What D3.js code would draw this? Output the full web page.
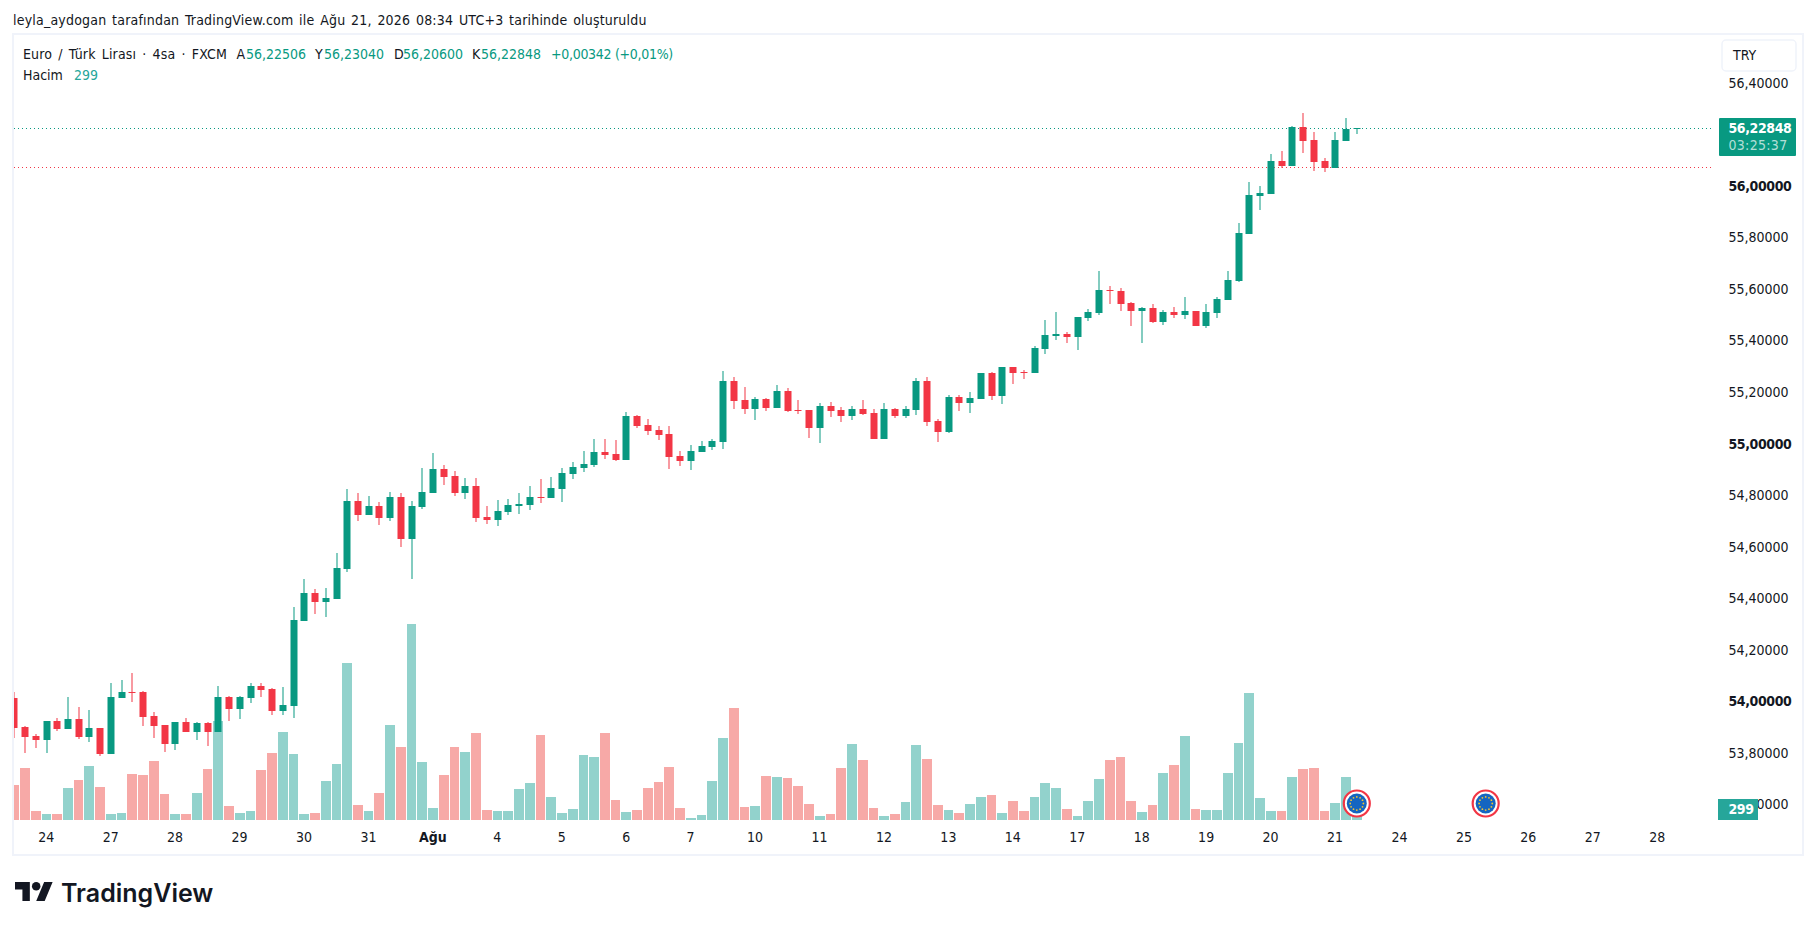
<!DOCTYPE html>
<html>
<head>
<meta charset="utf-8">
<script src="https://cdn.jsdelivr.net/npm/d3@7"></script>
<style>
  html, body { margin: 0; background: #fff; }
  svg { display: block; }
  text { font-family: "DejaVu Sans Condensed", "DejaVu Sans", sans-serif; font-size: 14px; fill: #131722; }
</style>
</head>
<body>
<svg id="chart" width="1815" height="930"></svg>
<script>
// EUR/TRY 4h candles
const opens = [
  54.018,53.905,53.870,53.855,53.928,53.897,53.936,53.866,53.901,53.800,
  54.018,54.041,54.041,53.948,53.913,53.839,53.924,53.885,53.920,53.885,
  54.022,53.975,54.018,54.064,54.053,53.967,53.987,54.316,54.425,54.390,
  54.402,54.518,54.782,54.728,54.763,54.716,54.798,54.634,54.759,54.813,
  54.906,54.879,54.813,54.840,54.720,54.708,54.739,54.763,54.767,54.798,
  54.794,54.829,54.887,54.910,54.921,54.972,54.964,54.941,55.111,55.076,
  55.057,55.041,54.957,54.937,54.972,54.991,55.010,55.247,55.174,55.139,
  55.178,55.143,55.208,55.135,55.135,55.065,55.150,55.135,55.111,55.139,
  55.123,55.022,55.139,55.111,55.135,55.247,55.092,55.049,55.185,55.162,
  55.178,55.278,55.189,55.302,55.282,55.278,55.372,55.422,55.430,55.418,
  55.492,55.511,55.600,55.596,55.550,55.519,55.530,55.476,55.515,55.503,
  55.519,55.461,55.511,55.562,55.635,55.817,55.965,55.972,56.101,56.082,
  56.233,56.182,56.101,56.074,56.178,56.22506
];
const highs = [
  54.041,53.909,53.878,53.928,53.940,54.022,53.983,53.971,53.901,54.075,
  54.087,54.115,54.045,53.963,53.913,53.924,53.940,53.924,53.924,54.064,
  54.026,54.026,54.075,54.075,54.057,54.061,54.371,54.479,54.440,54.444,
  54.580,54.829,54.813,54.802,54.778,54.817,54.813,54.782,54.910,54.968,
  54.921,54.898,54.871,54.871,54.763,54.786,54.790,54.813,54.840,54.867,
  54.875,54.910,54.933,54.976,55.022,55.022,55.018,55.127,55.115,55.100,
  55.072,55.072,54.976,54.999,55.014,55.022,55.286,55.263,55.224,55.185,
  55.182,55.232,55.220,55.174,55.135,55.162,55.166,55.147,55.150,55.174,
  55.139,55.162,55.143,55.150,55.259,55.263,55.100,55.193,55.193,55.205,
  55.278,55.282,55.302,55.302,55.290,55.383,55.484,55.515,55.437,55.495,
  55.527,55.674,55.616,55.608,55.554,55.534,55.546,55.523,55.534,55.573,
  55.519,55.546,55.573,55.674,55.860,56.019,56.004,56.127,56.139,56.237,
  56.287,56.213,56.113,56.213,56.268,56.2304
];
const lows = [
  53.863,53.804,53.824,53.804,53.889,53.897,53.858,53.847,53.792,53.800,
  54.018,54.002,53.909,53.863,53.808,53.816,53.885,53.855,53.831,53.885,
  53.928,53.936,53.998,54.022,53.952,53.952,53.940,54.316,54.343,54.332,
  54.402,54.506,54.704,54.728,54.689,54.704,54.603,54.479,54.751,54.813,
  54.844,54.802,54.790,54.700,54.692,54.685,54.728,54.732,54.747,54.774,
  54.794,54.778,54.867,54.894,54.914,54.945,54.937,54.941,55.065,55.037,
  55.018,54.906,54.918,54.902,54.972,54.980,54.983,55.139,55.119,55.096,
  55.131,55.143,55.127,55.119,55.026,55.006,55.108,55.088,55.096,55.115,
  55.022,55.022,55.104,55.104,55.115,55.072,55.010,55.045,55.131,55.123,
  55.178,55.174,55.158,55.236,55.255,55.278,55.352,55.406,55.395,55.368,
  55.480,55.503,55.546,55.519,55.461,55.395,55.472,55.465,55.492,55.488,
  55.461,55.453,55.492,55.562,55.631,55.817,55.911,55.972,56.074,56.082,
  56.131,56.062,56.058,56.074,56.178,56.206
];
const closes = [
  53.901,53.866,53.855,53.928,53.897,53.936,53.866,53.901,53.800,54.022,
  54.041,54.037,53.944,53.909,53.839,53.924,53.885,53.920,53.885,54.022,
  53.975,54.022,54.064,54.049,53.967,53.991,54.320,54.425,54.390,54.406,
  54.522,54.782,54.728,54.763,54.716,54.798,54.634,54.763,54.817,54.906,
  54.875,54.813,54.840,54.716,54.708,54.743,54.767,54.770,54.798,54.794,
  54.833,54.890,54.914,54.925,54.972,54.960,54.941,55.111,55.072,55.053,
  55.037,54.952,54.937,54.976,54.995,55.014,55.247,55.170,55.139,55.178,
  55.143,55.208,55.131,55.131,55.065,55.150,55.131,55.111,55.139,55.119,
  55.022,55.139,55.111,55.139,55.247,55.088,55.049,55.185,55.162,55.182,
  55.278,55.189,55.302,55.278,55.278,55.375,55.426,55.430,55.418,55.495,
  55.515,55.600,55.596,55.546,55.519,55.530,55.476,55.515,55.503,55.519,
  55.461,55.515,55.565,55.639,55.821,55.969,55.976,56.101,56.082,56.233,
  56.178,56.097,56.074,56.182,56.225,56.22848
];
const volumes = [
  2100,3120,540,360,360,1920,2400,3240,1980,360,
  420,2760,2700,3540,1560,360,360,1620,3060,5940,
  840,420,540,3000,4020,5280,3960,360,420,2340,
  3360,9420,900,540,1620,5700,4380,11760,3480,720,
  2700,4380,4080,5220,600,540,540,1860,2220,5100,
  1380,420,660,3900,3780,5220,1200,480,600,1920,
  2280,3180,720,120,300,2340,4920,6720,780,840,
  2640,2580,2520,2040,960,240,360,3120,4560,3600,
  720,240,360,1080,4500,3660,900,600,420,960,
  1380,1500,420,1140,540,1380,2220,1920,660,240,
  1140,2460,3600,3780,1140,480,900,2820,3300,5040,
  660,600,600,2820,4620,7620,1320,540,540,2580,
  3060,3120,540,1020,2580,299
];

// 56,2 sits under the last price label, so it is left out like in the original
const priceTicks = [56.4, 56, 55.8, 55.6, 55.4, 55.2, 55, 54.8, 54.6, 54.4, 54.2, 54, 53.8, 53.6];
const boldPrices = [56, 55, 54];
const dayLabels = ['24','27','28','29','30','31','Ağu','4','5','6','7','10','11','12','13','14','17','18','19','20','21','24','25','26','27','28'];
const eventBars = [125, 137];
const lastPrice = 56.22848;
const prevClose = 56.076;
const header = [
  ['A', 236.5, '#131722'], ['56,22506', 246, '#089981'],
  ['Y', 315, '#131722'], ['56,23040', 324, '#089981'],
  ['D', 394, '#131722'], ['56,20600', 403, '#089981'],
  ['K', 472, '#131722'], ['56,22848', 481, '#089981']
];

const green = '#089981';
const red = '#f23645';

const svg = d3.select('#chart');

// 6 bars a day, day ticks fall on every 6th bar
const x = d3.scaleLinear().domain([0, 125]).range([14.3, 14.3 + 125 * 10.74]);
const y = d3.scaleLinear().domain([53.6, 56.4]).range([805.72, 83.88]);
const v = d3.scaleLinear().domain([0, 11760]).range([820, 624]);

svg.append('defs').append('clipPath').attr('id', 'pane')
  .append('rect').attr('x', 14).attr('y', 35).attr('width', 1700).attr('height', 819);

// frame
svg.append('rect')
  .attr('x', 13).attr('y', 34).attr('width', 1790).attr('height', 821)
  .attr('fill', 'none').attr('stroke', '#f0f3fa').attr('stroke-width', 2);

// title
svg.append('text').attr('x', 13).attr('y', 25)
  .style('letter-spacing', '0.2px').style('word-spacing', '1.5px')
  .text('leyla_aydogan tarafından TradingView.com ile Ağu 21, 2026 08:34 UTC+3 tarihinde oluşturuldu');

const pane = svg.append('g').attr('clip-path', 'url(#pane)');

// price lines
[[lastPrice, green], [prevClose, red]].forEach(([p, color]) => {
  pane.append('line')
    .attr('x1', 14).attr('x2', 1715)
    .attr('y1', Math.floor(y(p)) + 0.5).attr('y2', Math.floor(y(p)) + 0.5)
    .attr('stroke', color).attr('stroke-dasharray', '1 3');
});

const bars = d3.range(opens.length);

// volume, 1px gap kept by snapping both edges
pane.selectAll('rect.vol').data(bars).join('rect')
  .attr('class', 'vol')
  .attr('x', (i) => Math.round(x(i) - 5))
  .attr('width', (i) => Math.round(x(i + 1) - 5) - Math.round(x(i) - 5) - 1)
  .attr('y', (i) => Math.round(v(volumes[i])))
  .attr('height', (i) => v(0) - Math.round(v(volumes[i])))
  .attr('fill', (i) => (closes[i] >= opens[i] ? '#92d2cc' : '#f7a9a7'));

// wicks
pane.selectAll('rect.wick').data(bars).join('rect')
  .attr('class', 'wick')
  .attr('x', (i) => Math.round(x(i)) - 0.5)
  .attr('width', 1)
  .attr('y', (i) => Math.round(y(highs[i])))
  .attr('height', (i) => Math.round(y(lows[i])) - Math.round(y(highs[i])))
  .attr('fill', (i) => (closes[i] >= opens[i] ? green : red));

// bodies
pane.selectAll('rect.body').data(bars).join('rect')
  .attr('class', 'body')
  .attr('x', (i) => Math.round(x(i)) - 3.5)
  .attr('width', 7)
  .attr('y', (i) => Math.round(y(Math.max(opens[i], closes[i]))))
  .attr('height', (i) => Math.max(1, Math.round(y(Math.min(opens[i], closes[i]))) - Math.round(y(Math.max(opens[i], closes[i])))))
  .attr('fill', (i) => (closes[i] >= opens[i] ? green : red));

// EU calendar flags
eventBars.forEach((b) => {
  const g = svg.append('g').attr('transform', `translate(${x(b)},803.5)`);
  g.append('circle').attr('r', 13).attr('fill', '#fff').attr('stroke', red).attr('stroke-width', 2.2);
  g.append('circle').attr('r', 10).attr('fill', '#1565c0');
  d3.range(12).forEach((k) => {
    const a = (k * Math.PI) / 6;
    g.append('circle').attr('r', 0.9).attr('cx', 6.6 * Math.cos(a)).attr('cy', 6.6 * Math.sin(a)).attr('fill', '#f4c430');
  });
});

// price axis
const priceAxis = d3.axisRight(y)
  .tickValues(priceTicks)
  .tickSize(0)
  .tickPadding(0)
  .tickFormat((d) => d3.format('.5f')(d).replace('.', ','));
const priceG = svg.append('g').attr('transform', 'translate(1728.5,0)').call(priceAxis);
priceG.select('.domain').remove();
priceG.selectAll('text')
  .attr('dy', '0.23em')
  .attr('font-weight', (d) => (boldPrices.includes(d) ? 700 : 400))
  .style('letter-spacing', (d) => (boldPrices.includes(d) ? '-0.4px' : null));

// time axis
const dayAxis = d3.axisBottom(x)
  .tickValues(dayLabels.map((d, i) => 3 + i * 6))
  .tickSize(0)
  .tickPadding(0)
  .tickFormat((d, i) => dayLabels[i]);
const dayG = svg.append('g').attr('transform', 'translate(-0.8,831)').call(dayAxis);
dayG.select('.domain').remove();
dayG.selectAll('text')
  .attr('dy', '0.78em')
  .attr('font-weight', (d, i) => (dayLabels[i] === 'Ağu' ? 700 : 400));
svg.selectAll('g').attr('font-family', null).attr('font-size', null);

// header legend
svg.append('text').attr('x', 23).attr('y', 59)
  .style('letter-spacing', '0.15px').style('word-spacing', '2px')
  .text('Euro / Türk Lirası · 4sa · FXCM');
header.forEach(([t, hx, color]) => {
  svg.append('text').attr('x', hx).attr('y', 59).style('fill', color).text(t);
});
svg.append('text').attr('x', 551).attr('y', 59)
  .style('fill', green).style('letter-spacing', '-0.3px')
  .text('+0,00342 (+0,01%)');
svg.append('text').attr('x', 23).attr('y', 80).text('Hacim');
svg.append('text').attr('x', 74).attr('y', 80).style('fill', '#26a69a').text('299');

// currency button
svg.append('rect')
  .attr('x', 1722).attr('y', 40).attr('width', 74).attr('height', 31).attr('rx', 4)
  .attr('fill', '#fff').attr('stroke', '#f0f3fa').attr('stroke-width', 1.5);
svg.append('text').attr('x', 1733).attr('y', 60).text('TRY');

// last price label
svg.append('rect').attr('x', 1719).attr('y', 118).attr('width', 77).attr('height', 38).attr('rx', 1).attr('fill', green);
svg.append('text').attr('x', 1728.5).attr('y', 133).attr('font-weight', 700)
  .style('fill', '#fff').style('letter-spacing', '-0.4px').text('56,22848');
svg.append('text').attr('x', 1728.5).attr('y', 150)
  .style('fill', 'rgba(255,255,255,0.7)').style('letter-spacing', '0.3px').text('03:25:37');

// volume label
svg.append('rect').attr('x', 1718).attr('y', 799).attr('width', 40).attr('height', 21).attr('fill', '#26a69a');
svg.append('text').attr('x', 1728.5).attr('y', 814).attr('font-weight', 700)
  .style('fill', '#fff').style('letter-spacing', '-0.4px').text('299');

// logo
const logo = svg.append('g').attr('transform', 'translate(15,877.8) scale(1.06)').attr('fill', '#131722');
logo.append('path').attr('d', 'M14 22H7V11H0V4h14v18zM28 22h-8l7.5-18h8L28 22z');
logo.append('circle').attr('cx', 20).attr('cy', 8).attr('r', 4);
svg.append('text').attr('x', 61).attr('y', 902)
  .style('font-family', 'Inter').style('font-size', '25px').style('font-weight', 600).text('TradingView');
</script>
</body>
</html>
